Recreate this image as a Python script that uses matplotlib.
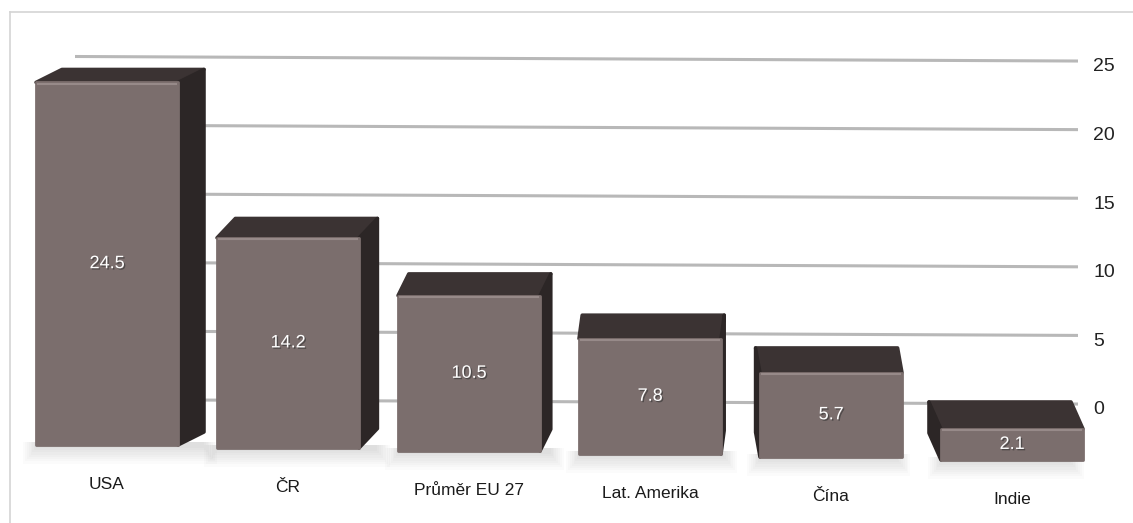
import matplotlib
matplotlib.use("Agg")
import matplotlib.pyplot as plt
import matplotlib.patheffects as pe
from matplotlib.patches import Polygon
from matplotlib.lines import Line2D
import numpy as np

plt.rcParams['font.family'] = ['Liberation Sans', 'DejaVu Sans']

categories = ["USA", "ČR", "Průměr EU 27", "Lat. Amerika", "Čína", "Indie"]
values = [24.5, 14.2, 10.5, 7.8, 5.7, 2.1]
ticks = [0, 5, 10, 15, 20, 25]

W, H = 1133, 523
fig = plt.figure(figsize=(W / 100, H / 100), dpi=100)

# light frame around the chart
fig.add_artist(Line2D([10 / W, 1], [1 - 12 / H] * 2, color="#d4d4d4", lw=1.2))
fig.add_artist(Line2D([10 / W] * 2, [0, 1 - 12 / H], color="#d4d4d4", lw=1.2))

# back wall with gridlines and the value scale on the right
ax_grid = fig.add_axes([75 / W, 0, 1003 / W, 1], zorder=1)
ax_grid.set_xlim(0, 1)
ax_grid.set_ylim((408 - H) / 13.72, 408 / 13.72)
for t in ticks:
    ax_grid.plot([0, 1], [t + 0.62, t + 0.29], color="#b8b8b8", lw=2.2, solid_capstyle="round")
ax_grid.set_xticks([])
ax_grid.yaxis.tick_right()
ax_grid.set_yticks(ticks)
ax_grid.set_yticklabels([str(t) for t in ticks], fontsize=14, color="#222222")
ax_grid.tick_params(axis="y", length=0, pad=11)
for s in ax_grid.spines.values():
    s.set_visible(False)
ax_grid.patch.set_visible(False)

# front: bars in value units
ax = fig.add_axes([0, 0, 1, 1], zorder=2)
px_x = 181.0   # pixels per category step
px_y = 14.8    # pixels per value unit
ax.set_xlim(-107 / px_x, (W - 107) / px_x)
ax.set_ylim(-(H - 452) / px_y, 452 / px_y)
ax.axis("off")
ax.patch.set_visible(False)

x = np.arange(len(values))
width = 0.785
bottoms = (7 - 3 * x) / px_y          # slight perspective drift of the floor
front_col = "#7b6e6d"
top_col = "#3b3333"
side_col = "#2c2626"

for xi, v, b in zip(x, values, bottoms):
    xl, xr = xi - width / 2, xi + width / 2
    t = b + v
    cx_px = 107 + px_x * xi
    dx = -0.042 * (cx_px - 726) / px_x
    dy = (28.3 - 0.625 * v) / px_y
    # soft shadow under the foot of the bar
    for k in range(8):
        gx = 0.01 * k
        gy = 0.15 * k
        ax.add_patch(Polygon([(xl - gx, b - 0.2 - gy), (xr + dx + gx, b - 0.2 - gy),
                              (xr + dx + gx, b + 0.2), (xl - gx, b + 0.2)],
                             closed=True, fc="black", ec="none", alpha=0.015, zorder=1))
    ax.add_patch(Polygon([(xl, t), (xr, t), (xr + dx, t + dy), (xl + dx, t + dy)],
                         closed=True, fc=top_col, ec=top_col, lw=2.5, joinstyle="round", zorder=2))
    if dx > 0:
        side = [(xr, b), (xr, t), (xr + dx, t + dy), (xr + dx, b + dy)]
    else:
        side = [(xl, b), (xl, t), (xl + dx, t + dy), (xl + dx, b + dy)]
    ax.add_patch(Polygon(side, closed=True, fc=side_col, ec=side_col, lw=2.5, joinstyle="round", zorder=2))

bars = ax.bar(x, values, width=width, bottom=bottoms, color=front_col,
              edgecolor=front_col, linewidth=2, joinstyle="round", zorder=3)
# light rim along the top edge of the front face
for xi, v, b in zip(x, values, bottoms):
    ax.plot([xi - width / 2 + 0.01, xi + width / 2 - 0.01], [b + v - 0.08] * 2,
            color="#978a89", lw=1.5, zorder=4)
    ax.text(xi, b + v / 2, f"{v}", color="white", fontsize=13, ha="center", va="center", zorder=5,
            path_effects=[pe.withSimplePatchShadow(offset=(1, -1), shadow_rgbFace="#333333", alpha=0.6)])
    ax.text(xi, b - 2.7, categories[xi], color="#1a1a1a", fontsize=12.5, ha="center", va="center", zorder=5)

fig.savefig("out.png", dpi=100, facecolor="white")
